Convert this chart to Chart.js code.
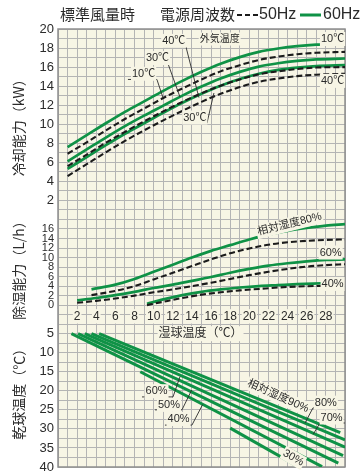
<!DOCTYPE html>
<html lang="ja">
<head>
<meta charset="utf-8">
<title>冷却能力・除湿能力</title>
<script src="https://cdn.jsdelivr.net/npm/chart.js@4.4.1/dist/chart.umd.min.js"></script>
<style>
    html, body { margin: 0; padding: 0; background: #fff; }
    #chartContainer { position: relative; width: 362px; height: 472px; }
</style>
</head>
<body>
<div id="chartContainer"><canvas id="capacityChart" width="362" height="472"></canvas></div>
<script>
// Catalogue palette
const COLORS = {
    green: '#0f9246',
    dashed: '#1b1b1b',
    grid: '#b4b4b4',
    frame: '#8e8e8e',
    paper: '#f7f5e5',
    text: '#2b2b2b'
};
const JP_FONT = '"Noto Sans CJK JP", sans-serif';
const NUM_FONT = '"Liberation Sans", "Noto Sans CJK JP", sans-serif';

// Tick labels
const wetTicks = [2, 4, 6, 8, 10, 12, 14, 16, 18, 20, 22, 24, 26, 28];
const coolTicks = [2, 4, 6, 8, 10, 12, 14, 16, 18, 20];
const dehTicks = [0, 2, 4, 6, 8, 10, 12, 14, 16];
const dryTicks = [5, 10, 15, 20, 25, 30, 35, 40];

// 冷却能力 (kW) vs 湿球温度, outdoor temp 10 / 30 / 40 ℃
const coolWet = [1, 3, 5, 7, 9, 11, 13, 15, 17, 19, 21, 23, 25, 27, 30];
const cool60Hz10 = [7.6, 8.85, 10.1, 11.3, 12.4, 13.5, 14.55, 15.5, 16.35, 17.05, 17.6, 17.95, 18.2, 18.35, 18.45];
const cool50Hz10 = [6.9, 8.1, 9.35, 10.55, 11.65, 12.75, 13.75, 14.7, 15.55, 16.2, 16.75, 17.1, 17.35, 17.5, 17.6];
const cool60Hz30 = [6.1, 7.35, 8.6, 9.8, 10.9, 11.95, 13.0, 13.95, 14.8, 15.5, 16.05, 16.4, 16.65, 16.8, 16.9];
const cool50Hz30 = [5.6, 6.8, 8.05, 9.2, 10.3, 11.35, 12.35, 13.25, 14.05, 14.7, 15.25, 15.55, 15.8, 15.95, 16.0];
const cool60Hz40 = [5.3, 6.55, 7.8, 9.0, 10.1, 11.2, 12.25, 13.2, 14.05, 14.75, 15.3, 15.7, 15.95, 16.1, 16.2];
const cool50Hz40 = [4.55, 5.8, 7.05, 8.25, 9.35, 10.4, 11.4, 12.35, 13.2, 13.9, 14.45, 14.8, 15.05, 15.2, 15.3];

// 除湿能力 (L/h) vs 湿球温度, relative humidity 80 / 60 / 40 %
const deh80Wet = [3.5, 6, 8, 10, 12, 14, 16, 18, 20, 22, 24, 26, 28, 30];
const deh60Hz80 = [3.3, 4.3, 5.5, 7.0, 8.5, 10.0, 11.4, 12.6, 13.8, 14.8, 15.6, 16.2, 16.7, 17.0];
const deh50Hz80 = [2.1, 3.0, 4.0, 5.4, 6.8, 8.2, 9.6, 10.9, 11.9, 12.7, 13.2, 13.5, 13.7, 13.8];
const deh60Wet = [2, 4, 6, 8, 10, 12, 14, 16, 18, 20, 22, 24, 26, 28, 30];
const deh60Hz60 = [1.0, 1.5, 2.1, 2.8, 3.6, 4.3, 5.1, 5.9, 6.8, 7.6, 8.3, 8.8, 9.2, 9.5, 9.6];
const deh50Hz60 = [0.5, 0.9, 1.4, 2.0, 2.7, 3.3, 4.0, 4.7, 5.5, 6.3, 7.0, 7.6, 8.1, 8.4, 8.6];
const deh40Wet = [9.3, 11, 13, 15, 17, 19, 21, 23, 25, 27.5];
const deh60Hz40 = [0.3, 1.2, 2.1, 2.8, 3.3, 3.7, 4.0, 4.2, 4.4, 4.6];
const deh50Hz40 = [0.0, 0.7, 1.5, 2.2, 2.7, 3.1, 3.4, 3.7, 3.9, 4.05];

// 乾球温度 (℃) vs 湿球温度, relative humidity lines (start / end)
const rh90Wet = [4.3, 29.5], rh90Dry = [5, 31];
const rh80Wet = [3.5, 30], rh80Dry = [5, 32.9];
const rh70Wet = [2.8, 30], rh70Dry = [5, 34.8];
const rh60Wet = [2.1, 29.8], rh60Dry = [5, 37];
const rh50Wet = [1.4, 29.3], rh50Dry = [5, 39];
const rh40Wet = [8.6, 27.6], rh40Dry = [15, 39.9];
const rh30Wet = [18, 25.1], rh30Dry = [29.8, 39.9];

// Text notes, placed in data units of the panel axis
const notes = [
    { text: '外気温度', axis: 'yCool', x: 16.9, y: 18.95, size: 10 },
    { text: '40℃', axis: 'yCool', x: 12.1, y: 18.75 },
    { text: '30℃', axis: 'yCool', x: 10.4, y: 16.95 },
    { text: '10℃', axis: 'yCool', x: 8.95, y: 15.3 },
    { text: '30℃', axis: 'yCool', x: 14.3, y: 10.7 },
    { text: '10℃', axis: 'yCool', x: 28.7, y: 18.95 },
    { text: '40℃', axis: 'yCool', x: 28.7, y: 14.55 },
    { text: '相対湿度80%', axis: 'yDeh', x: 24.2, y: 17.0, angle: -14 },
    { text: '60%', axis: 'yDeh', x: 28.5, y: 11.05 },
    { text: '40%', axis: 'yDeh', x: 28.7, y: 4.45 },
    { text: '湿球温度（℃）', axis: 'yDry', x: 14.9, y: 5, size: 12 },
    { text: '60%', axis: 'yDry', x: 10.3, y: 20.1 },
    { text: '50%', axis: 'yDry', x: 11.6, y: 23.7 },
    { text: '40%', axis: 'yDry', x: 12.6, y: 27.4 },
    { text: '80%', axis: 'yDry', x: 28.0, y: 23.1 },
    { text: '70%', axis: 'yDry', x: 28.6, y: 27.0 },
    { text: '相対湿度90%', axis: 'yDry', x: 23.0, y: 21.4, angle: 24 },
    { text: '30%', axis: 'yDry', x: 24.6, y: 37.6, angle: 30 }
];

// Leader lines: underline then pointer to the curve
const leaders = [
    { axis: 'yCool', pts: [[10.97, 18.11], [13.38, 18.11], [14.73, 12.8]] },
    { axis: 'yCool', pts: [[9.09, 16.38], [11.49, 16.38], [12.75, 12.86]] },
    { axis: 'yCool', pts: [[7.31, 14.7], [10.34, 14.7], [10.97, 12.8]] },
    { axis: 'yCool', pts: [[13.06, 10.1], [15.57, 10.1], [16.3, 13.28]] },
    { axis: 'yDry', pts: [[8.78, 21.6], [12.02, 21.6], [12.75, 16.3]] },
    { axis: 'yDry', pts: [[10.14, 25.0], [12.96, 25.0], [13.97, 19.8]] },
    { axis: 'yDry', pts: [[11.18, 29.0], [14.0, 29.0], [15.12, 23.6]] },
    { axis: 'yDry', pts: [[29.26, 24.5], [26.65, 24.5], [25.81, 28.5]] },
    { axis: 'yDry', pts: [[29.99, 28.45], [27.38, 28.45], [26.68, 31.4]] }
];

/**
 * Zip x / y arrays into Chart.js points
 */
function toPoints(xs, ys) {
    return xs.map((x, i) => ({ x: x, y: ys[i] }));
}

/**
 * Build one line dataset
 */
function series(xs, ys, axis, hz) {
    const dashed = hz === 50;
    return {
        data: toPoints(xs, ys),
        yAxisID: axis,
        xAxisID: 'x',
        borderColor: dashed ? COLORS.dashed : COLORS.green,
        borderWidth: dashed ? 2.1 : 2.7,
        borderDash: dashed ? [6, 3] : [],
        pointRadius: 0,
        cubicInterpolationMode: 'monotone',
        fill: false
    };
}

// Cream plotting paper and frame
const paperPlugin = {
    id: 'paper',
    beforeDraw(chart) {
        const { ctx, chartArea: a } = chart;
        ctx.save();
        ctx.fillStyle = COLORS.paper;
        ctx.fillRect(a.left, a.top, a.right - a.left, a.bottom - a.top);
        ctx.restore();
    },
    beforeDatasetsDraw(chart) {
        const { ctx, chartArea: a } = chart;
        ctx.save();
        ctx.strokeStyle = COLORS.frame;
        ctx.lineWidth = 1.5;
        ctx.strokeRect(a.left, a.top, a.right - a.left, a.bottom - a.top);
        ctx.restore();
    }
};

// Leader lines and labels on the chart
const notesPlugin = {
    id: 'notes',
    afterDatasetsDraw(chart) {
        const ctx = chart.ctx;
        const xs = chart.scales.x;
        ctx.save();
        ctx.strokeStyle = COLORS.text;
        ctx.lineWidth = 0.9;
        leaders.forEach(l => {
            const ys = chart.scales[l.axis];
            ctx.beginPath();
            l.pts.forEach((p, i) => {
                const px = xs.getPixelForValue(p[0]);
                const py = ys.getPixelForValue(p[1]);
                if (i === 0) ctx.moveTo(px, py); else ctx.lineTo(px, py);
            });
            ctx.stroke();
        });
        ctx.restore();

        notes.forEach(n => {
            const size = n.size || 11;
            const px = xs.getPixelForValue(n.x);
            const py = chart.scales[n.axis].getPixelForValue(n.y);
            ctx.save();
            ctx.translate(px, py);
            ctx.rotate((n.angle || 0) * Math.PI / 180);
            ctx.font = size + 'px ' + NUM_FONT;
            const w = ctx.measureText(n.text).width;
            const h = size + 3;
            ctx.fillStyle = COLORS.paper;
            ctx.fillRect(-w / 2 - 1, -h / 2, w + 2, h);
            ctx.fillStyle = COLORS.text;
            ctx.textAlign = 'center';
            ctx.textBaseline = 'middle';
            ctx.fillText(n.text, 0, 0);
            ctx.restore();
        });
    }
};

// Header line: 標準風量時  電源周波数 ---50Hz ━60Hz
const headerPlugin = {
    id: 'header',
    afterDraw(chart) {
        const ctx = chart.ctx;
        ctx.save();
        ctx.fillStyle = COLORS.text;
        ctx.textBaseline = 'middle';
        ctx.font = '15px ' + JP_FONT;
        ctx.fillText('標準風量時', 60, 14);
        ctx.fillText('電源周波数', 160, 14);
        ctx.font = '16px ' + NUM_FONT;
        ctx.fillText('50Hz', 259, 15);
        ctx.fillText('60Hz', 323, 15);

        ctx.lineWidth = 2.2;
        ctx.strokeStyle = COLORS.dashed;
        ctx.setLineDash([5, 3]);
        ctx.beginPath();
        ctx.moveTo(237, 15);
        ctx.lineTo(258, 15);
        ctx.stroke();

        ctx.setLineDash([]);
        ctx.lineWidth = 3;
        ctx.strokeStyle = COLORS.green;
        ctx.beginPath();
        ctx.moveTo(300, 15);
        ctx.lineTo(321, 15);
        ctx.stroke();
        ctx.restore();
    }
};

/**
 * Left axis shared settings for each stacked panel
 */
function panelAxis(weight, min, max, step, labels, title, fontSize, extra) {
    return Object.assign({
        type: 'linear',
        position: 'left',
        stack: 'panels',
        stackWeight: weight,
        min: min,
        max: max,
        afterFit: scale => {
            scale.width = 58;
            scale.paddingTop = 0;
            scale.paddingBottom = 0;
        },
        ticks: {
            stepSize: step,
            autoSkip: false,
            padding: 4,
            color: COLORS.text,
            font: { family: NUM_FONT, size: fontSize },
            callback: v => labels.includes(v) ? v : ''
        },
        grid: { color: COLORS.grid, drawTicks: false },
        border: { display: false },
        title: {
            display: true,
            text: title,
            color: COLORS.text,
            font: { family: JP_FONT, size: 14 },
            padding: { top: 10, bottom: 0 }
        }
    }, extra || {});
}

function createCapacityChart(canvasId) {
    const ctx = document.getElementById(canvasId);
    if (!ctx) {
        console.error(`Canvas element ${canvasId} not found`);
        return null;
    }

    const datasets = [
        series(coolWet, cool50Hz10, 'yCool', 50),
        series(coolWet, cool50Hz30, 'yCool', 50),
        series(coolWet, cool50Hz40, 'yCool', 50),
        series(coolWet, cool60Hz10, 'yCool', 60),
        series(coolWet, cool60Hz30, 'yCool', 60),
        series(coolWet, cool60Hz40, 'yCool', 60),

        series(deh80Wet, deh50Hz80, 'yDeh', 50),
        series(deh60Wet, deh50Hz60, 'yDeh', 50),
        series(deh40Wet, deh50Hz40, 'yDeh', 50),
        series(deh80Wet, deh60Hz80, 'yDeh', 60),
        series(deh60Wet, deh60Hz60, 'yDeh', 60),
        series(deh40Wet, deh60Hz40, 'yDeh', 60),

        series(rh90Wet, rh90Dry, 'yDry', 60),
        series(rh80Wet, rh80Dry, 'yDry', 60),
        series(rh70Wet, rh70Dry, 'yDry', 60),
        series(rh60Wet, rh60Dry, 'yDry', 60),
        series(rh50Wet, rh50Dry, 'yDry', 60),
        series(rh40Wet, rh40Dry, 'yDry', 60),
        series(rh30Wet, rh30Dry, 'yDry', 60)
    ];
    datasets.slice(12).forEach(d => { d.borderWidth = 3; d.cubicInterpolationMode = 'default'; });

    return new Chart(ctx, {
        type: 'line',
        data: { datasets: datasets },
        options: {
            responsive: false,
            animation: false,
            layout: { padding: { top: 29, right: 17, bottom: 5, left: 0 } },
            plugins: {
                legend: { display: false },
                tooltip: { enabled: false }
            },
            scales: {
                x: {
                    type: 'linear',
                    min: 0,
                    max: 30,
                    afterFit: scale => { scale.height = 0; },
                    ticks: { stepSize: 1, display: false },
                    grid: { color: COLORS.grid, drawTicks: false },
                    border: { display: false }
                },
                xWet: {
                    type: 'linear',
                    min: 0,
                    max: 30,
                    position: { yDeh: -2 },
                    afterFit: scale => { scale.height = 0; },
                    afterBuildTicks: scale => { scale.ticks = wetTicks.map(v => ({ value: v })); },
                    ticks: {
                        autoSkip: false,
                        maxRotation: 0,
                        padding: -13.5,
                        color: COLORS.text,
                        font: { family: NUM_FONT, size: 12 },
                        showLabelBackdrop: true,
                        backdropColor: COLORS.paper,
                        backdropPadding: { x: 1, y: 0 },
                        z: 1
                    },
                    grid: { display: false },
                    border: { display: false }
                },
                yDry: panelAxis(16, 0, 40, 2.5, dryTicks, '乾球温度（℃）', 13, { reverse: true }),
                yDeh: panelAxis(10, -2, 18, 2, dehTicks, '除湿能力（L/h）', 11),
                yCool: panelAxis(20, 0, 20, 1, coolTicks, '冷却能力（kW）', 13)
            }
        },
        plugins: [paperPlugin, notesPlugin, headerPlugin]
    });
}

document.addEventListener('DOMContentLoaded', () => createCapacityChart('capacityChart'));
</script>
</body>
</html>
